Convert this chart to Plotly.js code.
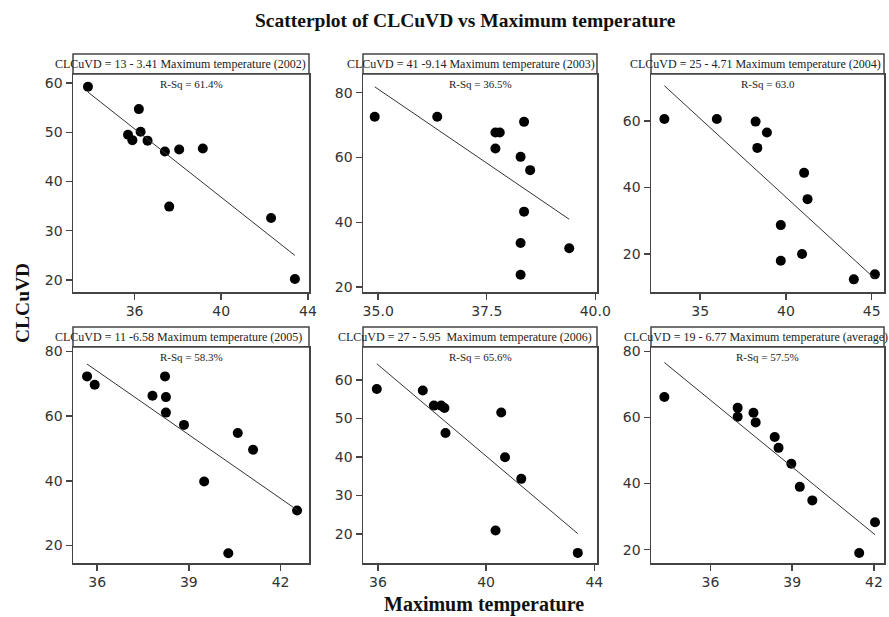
<!DOCTYPE html>
<html>
<head>
<meta charset="utf-8">
<script src="https://cdn.plot.ly/plotly-3.0.1.min.js"></script>
<style>html,body{margin:0;padding:0;background:#fff;}#chart{width:889px;height:617px;}</style>
</head>
<body>
<div id="chart"></div>
<script>
// ---- data ----
const years = ["2002", "2003", "2004", "2005", "2006", "average"];
const fitLabels = [
  "CLCuVD = 13 - 3.41 Maximum temperature (2002)",
  "CLCuVD = 41 -9.14 Maximum temperature (2003)",
  "CLCuVD = 25 - 4.71 Maximum temperature (2004)",
  "CLCuVD = 11 -6.58 Maximum temperature (2005)",
  "CLCuVD = 27 - 5.95  Maximum temperature (2006)",
  "CLCuVD = 19 - 6.77 Maximum temperature (average)"
];
const rsqLabels = ["R-Sq = 61.4%", "R-Sq = 36.5%", "R-Sq = 63.0", "R-Sq = 58.3%", "R-Sq = 65.6%", "R-Sq = 57.5%"];

const temp2002 = [33.85, 36.2, 35.7, 35.9, 36.28, 36.6, 37.4, 38.06, 39.15, 37.6, 42.3, 43.4];
const clcuvd2002 = [59.25, 54.7, 49.5, 48.4, 50.1, 48.3, 46.1, 46.5, 46.7, 34.9, 32.6, 20.2];

const temp2003 = [34.92, 36.36, 37.7, 37.8, 37.7, 38.36, 38.28, 38.5, 38.36, 38.28, 38.28, 39.4];
const clcuvd2003 = [72.6, 72.6, 67.7, 67.7, 62.8, 71.0, 60.2, 56.1, 43.3, 33.6, 23.8, 32.0];

const temp2004 = [32.91, 35.97, 38.23, 38.89, 38.33, 41.06, 41.26, 39.7, 39.7, 40.94, 43.96, 45.19];
const clcuvd2004 = [60.6, 60.6, 59.8, 56.5, 51.9, 44.4, 36.5, 28.7, 18.0, 20.0, 12.4, 13.9];

const temp2005 = [35.67, 35.92, 37.81, 38.22, 38.25, 38.25, 38.84, 39.5, 40.6, 41.1, 42.54, 40.29];
const clcuvd2005 = [72.3, 69.7, 66.3, 72.3, 65.9, 61.1, 57.3, 39.8, 54.8, 49.6, 30.8, 17.6];

const temp2006 = [35.96, 37.66, 38.07, 38.34, 38.46, 38.5, 40.56, 40.7, 41.3, 40.35, 43.39];
const clcuvd2006 = [57.6, 57.2, 53.3, 53.3, 52.7, 46.2, 51.5, 39.9, 34.3, 20.9, 15.1];

const tempAvg = [34.31, 37.0, 37.0, 37.58, 37.66, 38.36, 38.5, 38.97, 39.28, 39.74, 41.46, 42.04];
const clcuvdAvg = [66.2, 62.9, 60.2, 61.4, 58.5, 54.1, 50.8, 46.0, 39.0, 34.9, 19.0, 28.3];

const xTicks = [[36, 40, 44], [35.0, 37.5, 40.0], [35, 40, 45], [36, 39, 42], [36, 40, 44], [36, 39, 42]];
const yTicks = [[20, 30, 40, 50, 60], [20, 40, 60, 80], [20, 40, 60], [20, 40, 60, 80], [20, 30, 40, 50, 60], [20, 40, 60, 80]];

// ---- layout geometry ----
const W = 889, H = 617;
const px = v => v / W;
const py = v => 1 - v / H;
const cols = [[73, 309], [363, 597], [651, 884]];
const rows = [{head: 54, top: 74, bottom: 292}, {head: 327, top: 347, bottom: 563}];
const xRanges = [[33.16, 44.05], [34.65, 40.04], [32.13, 45.72], [35.21, 42.93], [35.45, 44.1], [33.82, 42.37]];
const yRanges = [[17.56, 61.83], [18.5, 85.77], [8.6, 74.1], [14.56, 81.4], [12.48, 68.5], [15.97, 81.3]];
const headCenters = [180, 471, 755, 178, 465, 756];

const xs = [temp2002, temp2003, temp2004, temp2005, temp2006, tempAvg];
const ys = [clcuvd2002, clcuvd2003, clcuvd2004, clcuvd2005, clcuvd2006, clcuvdAvg];

function fit(x, y) {
  const n = x.length;
  const mx = x.reduce((a, b) => a + b, 0) / n;
  const my = y.reduce((a, b) => a + b, 0) / n;
  let sxy = 0, sxx = 0;
  for (let i = 0; i < n; i++) { sxy += (x[i] - mx) * (y[i] - my); sxx += (x[i] - mx) ** 2; }
  const b = sxy / sxx;
  return {a: my - b * mx, b: b};
}

const traces = [];
const layout = {
  width: W, height: H,
  margin: {l: 0, r: 0, t: 0, b: 0},
  paper_bgcolor: "#fff", plot_bgcolor: "#fff",
  showlegend: false,
  shapes: [], annotations: []
};
const tickFont = {family: "DejaVu Sans, sans-serif", size: 14, color: "#333"};
const serif = "Liberation Serif, Times New Roman, serif";

for (let i = 0; i < 6; i++) {
  const r = Math.floor(i / 3), c = i % 3;
  const sfx = i === 0 ? "" : String(i + 1);
  const col = cols[c], row = rows[r];
  const x = xs[i], y = ys[i];
  traces.push({
    type: "scatter", mode: "markers", x: x, y: y,
    xaxis: "x" + sfx, yaxis: "y" + sfx,
    marker: {symbol: "circle", size: 10, color: "#000"},
    hoverinfo: "skip"
  });
  const f = fit(x, y);
  const xmin = Math.min(...x), xmax = Math.max(...x);
  traces.push({
    type: "scatter", mode: "lines",
    x: [xmin, xmax], y: [f.a + f.b * xmin, f.a + f.b * xmax],
    xaxis: "x" + sfx, yaxis: "y" + sfx,
    line: {color: "#333", width: 1}, hoverinfo: "skip"
  });
  layout["xaxis" + sfx] = {
    domain: [px(col[0]), px(col[1])], anchor: "y" + sfx,
    range: xRanges[i], tickvals: xTicks[i],
    ticktext: xTicks[i].map(v => i === 1 ? v.toFixed(1) : String(v)),
    ticks: "outside", ticklen: 6, tickwidth: 1.5, tickcolor: "#444",
    showline: true, mirror: true, linecolor: "#444", linewidth: 1.5,
    showgrid: false, zeroline: false, tickfont: tickFont
  };
  layout["yaxis" + sfx] = {
    domain: [py(row.bottom), py(row.top)], anchor: "x" + sfx,
    range: yRanges[i], tickvals: yTicks[i],
    ticks: "outside", ticklen: 6, tickwidth: 1.5, tickcolor: "#444",
    showline: true, mirror: true, linecolor: "#444", linewidth: 1.5,
    showgrid: false, zeroline: false, tickfont: tickFont
  };
  layout.shapes.push({
    type: "rect", xref: "paper", yref: "paper",
    x0: px(col[0]), x1: px(col[1]), y0: py(row.top), y1: py(row.head),
    line: {color: "#444", width: 1.5}, fillcolor: "rgba(0,0,0,0)"
  });
  layout.annotations.push({
    xref: "paper", yref: "paper", x: px(headCenters[i]), y: py((row.head + row.top) / 2),
    text: fitLabels[i], showarrow: false, xanchor: "center", yanchor: "middle",
    font: {family: serif, size: 12, color: "#222"}
  });
  layout.annotations.push({
    xref: "paper", yref: "paper", x: px((col[0] + col[1]) / 2), y: py(row.top + 10),
    text: rsqLabels[i], showarrow: false, xanchor: "center", yanchor: "middle",
    font: {family: serif, size: 11, color: "#222"}
  });
}

layout.annotations.push({
  xref: "paper", yref: "paper", x: px(465), y: py(20),
  text: "<b>Scatterplot of CLCuVD vs Maximum temperature</b>", showarrow: false,
  xanchor: "center", yanchor: "middle", font: {family: serif, size: 19.5, color: "#111"}
});
layout.annotations.push({
  xref: "paper", yref: "paper", x: px(484), y: py(604),
  text: "<b>Maximum temperature</b>", showarrow: false,
  xanchor: "center", yanchor: "middle", font: {family: serif, size: 20, color: "#111"}
});
layout.annotations.push({
  xref: "paper", yref: "paper", x: px(22), y: py(303),
  text: "<b>CLCuVD</b>", showarrow: false, textangle: -90,
  xanchor: "center", yanchor: "middle", font: {family: serif, size: 19.5, color: "#111"}
});

Plotly.newPlot("chart", traces, layout, {staticPlot: true, displayModeBar: false});
</script>
</body>
</html>
